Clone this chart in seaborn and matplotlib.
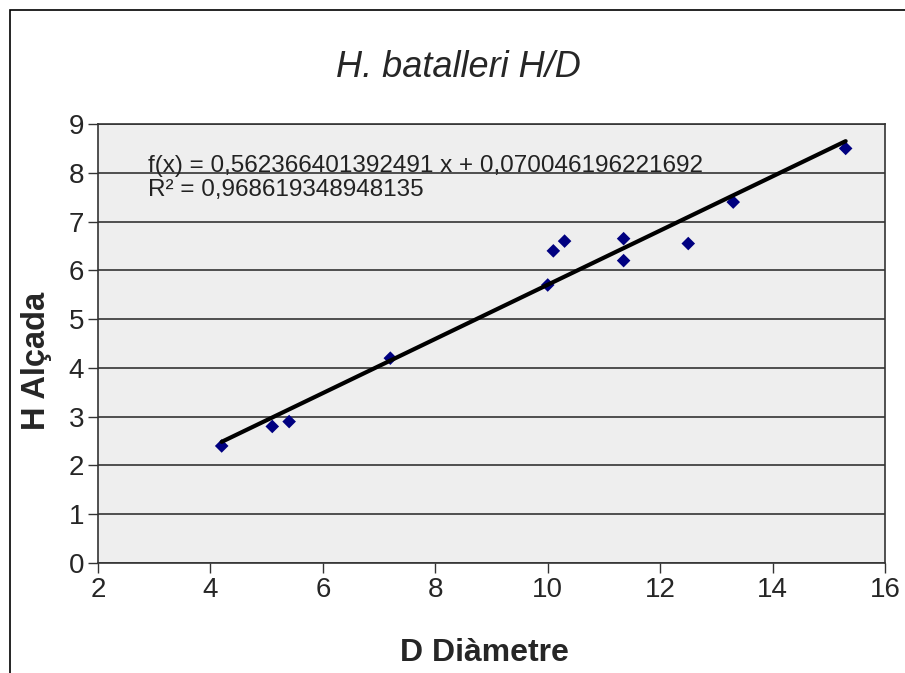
import numpy as np
import pandas as pd
import matplotlib
matplotlib.use("Agg")
import matplotlib.pyplot as plt
import seaborn as sns
from matplotlib.patches import Rectangle

diametre = [4.2, 5.1, 5.4, 7.2, 10.0, 10.1, 10.3, 11.35, 11.35, 12.5, 13.3, 15.3]
alcada = [2.4, 2.8, 2.9, 4.2, 5.7, 6.4, 6.6, 6.65, 6.2, 6.55, 7.4, 8.5]
title = "H. batalleri H/D"
xlabel = "D Diàmetre"
ylabel = "H Alçada"
eq_text = "f(x) = 0,562366401392491 x + 0,070046196221692\nR² = 0,968619348948135"
xticks = [2, 4, 6, 8, 10, 12, 14, 16]
yticks = [0, 1, 2, 3, 4, 5, 6, 7, 8, 9]

df = pd.DataFrame({"D": diametre, "H": alcada})

sns.set_style("white")
plt.rcParams['font.family'] = ['Liberation Sans', 'DejaVu Sans']

fig = plt.figure(figsize=(9.05, 6.73), dpi=100)
ax = fig.add_axes([0.1083, 0.1634, 0.8696, 0.6523])
ax.set_facecolor("#eeeeee")

sns.regplot(data=df, x="D", y="H", ax=ax, ci=None, marker="D",
            scatter_kws=dict(s=48, color="#000080", edgecolors="none", alpha=1, zorder=3),
            line_kws=dict(color="black", lw=3, zorder=4))

ax.set_xlim(2, 16)
ax.set_ylim(0, 9)
ax.set_xticks(xticks)
ax.set_yticks(yticks)
ax.yaxis.grid(True, color="#333333", lw=1.2)
ax.xaxis.grid(False)
ax.set_axisbelow(True)
for s in ax.spines.values():
    s.set_color("#333333")
    s.set_linewidth(1.2)
ax.tick_params(axis="both", direction="out", length=7, width=1, color="#333333",
               labelsize=20, pad=3, bottom=True, left=True)
ax.set_xlabel(xlabel, fontsize=23, fontweight="bold", va="center")
ax.set_ylabel(ylabel, fontsize=23.5, fontweight="bold", va="center")
ax.xaxis.set_label_coords(0.491, -0.205)
ax.yaxis.set_label_coords(-0.078, 0.46)
fig.text(0.507, 0.9, title, fontsize=26, style="italic", ha="center", va="center")
ax.text(0.063, 0.93, eq_text, transform=ax.transAxes, fontsize=17.5,
        va="top", ha="left", linespacing=1.15, color="#222222")

fig.patches.append(Rectangle((10/905, -0.1), 1.2, 1 - 10/673 + 0.1, transform=fig.transFigure,
                             fill=False, edgecolor="black", lw=1.2))

fig.savefig("out.png", dpi=100)
